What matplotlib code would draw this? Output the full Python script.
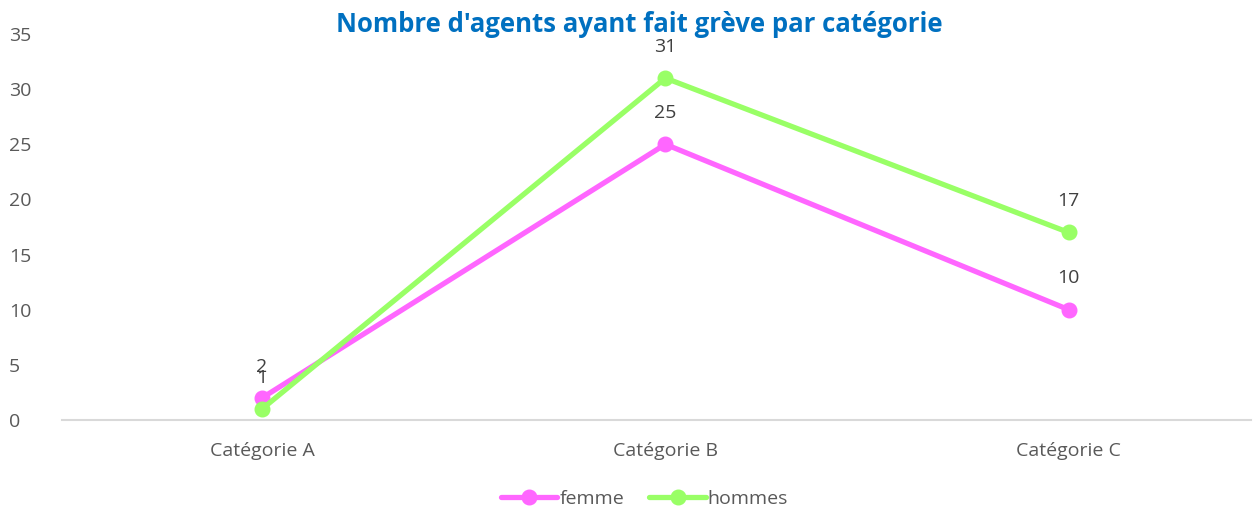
import matplotlib.pyplot as plt

plt.rcParams['font.family'] = ['Open Sans', 'DejaVu Sans']

categories = ['Catégorie A', 'Catégorie B', 'Catégorie C']
femme = [2, 25, 10]
hommes = [1, 31, 17]
series_names = ['femme', 'hommes']
colors = ['#FF66FF', '#99FF66']

fig = plt.figure(figsize=(12.54, 5.14), dpi=100)
ax = fig.add_axes([0.0494, 0.1829, 0.9486, 0.751])

x = list(range(len(categories)))
for vals, name, col in zip([femme, hommes], series_names, colors):
    ax.plot(x, vals, color=col, lw=3.8, marker='o', markersize=10.5,
            solid_capstyle='round', label=name)
    for xi, v in zip(x, vals):
        ax.annotate(str(v), (xi, v), xytext=(0, 22.5), textcoords='offset points',
                    ha='center', va='center', fontsize=14, color='#404040')

ax.set_xlim(-0.496, 2.453)
ax.set_ylim(0, 35)
ax.set_yticks(range(0, 36, 5))
ax.set_xticks(x)
ax.set_xticklabels(categories)
ax.tick_params(length=0, labelsize=14, labelcolor='#595959')
ax.tick_params(axis='x', pad=16)
ax.tick_params(axis='y', pad=38)
for yl in ax.get_yticklabels():
    yl.set_horizontalalignment('left')
for s in ['top', 'right', 'left']:
    ax.spines[s].set_visible(False)
ax.spines['bottom'].set_color('#D9D9D9')
ax.spines['bottom'].set_linewidth(1.5)

fig.text(0.51, 0.953, "Nombre d'agents ayant fait grève par catégorie",
         ha='center', va='center', fontsize=18.5, fontweight='bold', color='#0070C0')

fig.legend(loc='center', bbox_to_anchor=(0.514, 0.03), ncol=2, frameon=False,
           fontsize=14, labelcolor='#595959', handlelength=2.9, handletextpad=0.1,
           columnspacing=1.3)

fig.savefig('out.png', dpi=100)
